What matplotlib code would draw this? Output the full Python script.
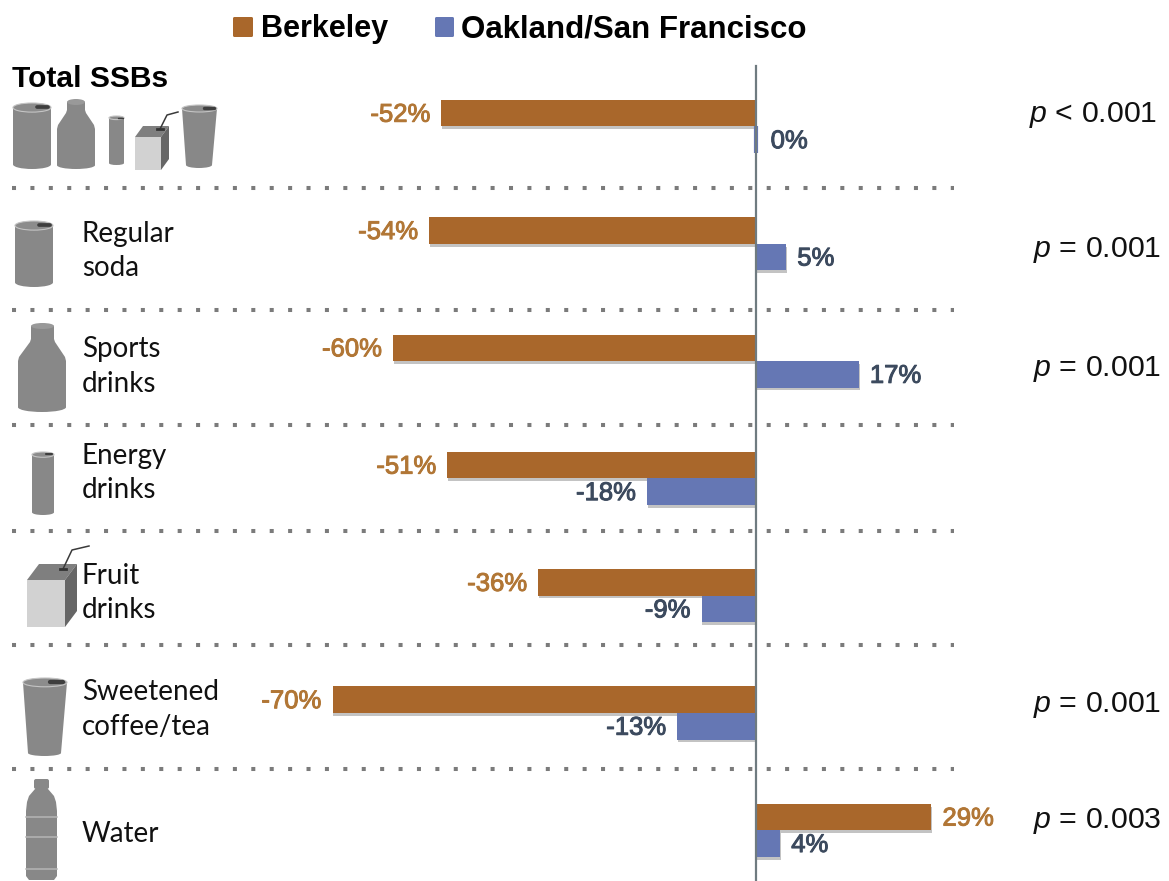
import numpy as np
import matplotlib
matplotlib.use("Agg")
import matplotlib.pyplot as plt
import matplotlib.patheffects as pe
from matplotlib.patches import Ellipse, Polygon, Rectangle, FancyBboxPatch

plt.rcParams['mathtext.fontset'] = 'custom'
plt.rcParams['mathtext.it'] = 'Liberation Sans:italic'
plt.rcParams['mathtext.rm'] = 'Liberation Sans'

# Percent change in sales by beverage group
categories = ["Total SSBs", "Regular\nsoda", "Sports\ndrinks", "Energy\ndrinks",
              "Fruit\ndrinks", "Sweetened\ncoffee/tea", "Water"]
berkeley = [-52, -54, -60, -51, -36, -70, 29]
oakland_sf = [0, 5, 17, -18, -9, -13, 4]
p_values = ["< 0.001", "= 0.001", "= 0.001", None, None, "= 0.001", "= 0.003"]
series_names = ["Berkeley", "Oakland/San Francisco"]

ORANGE = "#A9672B"
ORANGE_TEXT = "#B17635"
BLUE = "#6577B4"
BLUE_TEXT = "#3C4A5E"
GREY = "#888888"
W, H = 1169, 881

fig = plt.figure(figsize=(W / 100, H / 100), dpi=100, facecolor="white")

# data axes, scaled so one percentage point is about 6.05 px and one row 117.3 px
ax = fig.add_axes([0, 0, 1, 1])
px_per_pct = 6.05
x_zero = 756
ax.set_xlim(-x_zero / px_per_pct, (W - x_zero) / px_per_pct)
row_h = 117.3
row_0 = 126.5
ax.set_ylim((H - row_0) / row_h, -row_0 / row_h)
ax.axis("off")

# pixel overlay for the legend, separators and drink icons
ov = fig.add_axes([0, 0, 1, 1], zorder=3)
ov.set_xlim(0, W)
ov.set_ylim(H, 0)
ov.axis("off")
ov.patch.set_alpha(0)

rows = np.arange(len(categories))
bar_h = 26.5 / row_h
shadow = [pe.SimplePatchShadow(offset=(0.5, -2), shadow_rgbFace="#555555", alpha=0.35), pe.Normal()]

for vals, off, color in [(berkeley, -bar_h / 2, ORANGE), (oakland_sf, bar_h / 2, BLUE)]:
    bars = ax.barh(rows + off, vals, height=bar_h, color=color, zorder=2,
                   edgecolor=color, linewidth=[3 if v == 0 else 0 for v in vals])
    for b in bars:
        b.set_path_effects(shadow)

ax.plot([0, 0], [(66 - row_0) / row_h, (H - row_0) / row_h], color="#6F7B80", lw=1.6, zorder=3)

# value labels beside the bar ends, thickened slightly with a stroke
gap = 11 / px_per_pct
nudge = 1.5 / row_h
for vals, off, color in [(berkeley, -bar_h / 2, ORANGE_TEXT), (oakland_sf, bar_h / 2, BLUE_TEXT)]:
    for r, v in zip(rows, vals):
        t = ax.text(v + (gap if v >= 0 else -gap) + (0.6 if v == 0 else 0), r + off + nudge, f"{v}%",
                    ha="left" if v >= 0 else "right", va="center",
                    color=color, fontsize=18.5, family="Liberation Sans", zorder=4)
        t.set_path_effects([pe.withStroke(linewidth=0.7, foreground=color)])

# dotted separators
for y in [188, 310, 425, 531, 645, 769]:
    ov.plot([12, 954], [y, y], color="#7B7B7B", lw=2.9,
            linestyle=(0, (1.0, 3.57)), dash_capstyle="butt", zorder=1)

# legend
ov.add_patch(FancyBboxPatch((233, 17), 20, 20, boxstyle="round,pad=0,rounding_size=1.5",
                            fc=ORANGE, ec="none"))
ov.add_patch(FancyBboxPatch((435, 17), 19, 20, boxstyle="round,pad=0,rounding_size=1.5",
                            fc=BLUE, ec="none"))
ov.text(261, 37.5, series_names[0], ha="left", va="baseline", family="Liberation Sans",
        fontweight="bold", fontsize=22)
ov.text(461, 37.5, series_names[1], ha="left", va="baseline", family="Liberation Sans",
        fontweight="bold", fontsize=22.5)

# category names
ov.text(12, 79, categories[0], ha="left", va="center", family="Liberation Sans",
        fontweight="bold", fontsize=21.6)
label_y = [251, 366.5, 473, 593, 709.5, 834]
for name, y in zip(categories[1:], label_y):
    ov.text(82, y, name, ha="left", va="center", family="Lato", fontsize=20,
            linespacing=1.42, color="#111111")

# p values
p_y = [115, 250, 369, None, None, 705, 821]
for txt, y in zip(p_values, p_y):
    if txt is not None:
        x = 1029 if txt.startswith("<") else 1033
        ov.text(x, y, rf"$\mathit{{p}}$ {txt}", ha="left", va="center",
                family="Liberation Sans", fontsize=21.8, color="#111111")


def can(x0, x1, y0, y1, slot=True):
    ry = (x1 - x0) * 0.12
    ov.add_patch(Rectangle((x0, y0 + ry), x1 - x0, y1 - y0 - 2 * ry, fc=GREY, ec="none"))
    ov.add_patch(Ellipse(((x0 + x1) / 2, y1 - ry), x1 - x0, 2 * ry, fc=GREY, ec="none"))
    ov.add_patch(Ellipse(((x0 + x1) / 2, y0 + ry), x1 - x0, 2 * ry, fc="#8C8C8C", ec="#C4C4C4", lw=0.8))
    if slot:
        w = x1 - x0
        ov.plot([x0 + w * 0.62, x0 + w * 0.92], [y0 + ry * 0.9, y0 + ry * 0.9], color="#3E3E3E",
                lw=max(1.0, w * 0.07), solid_capstyle="round")


def jug(x0, x1, nx0, nx1, y0, neck_y, shoulder_y, y1):
    # bottle outline, neck sloping straight into the shoulders
    ry = (x1 - x0) * 0.1
    pts = [(nx0, y0 + 3), (nx1, y0 + 3), (nx1, neck_y), (nx1 + 1, neck_y + 3), (x1 - 1, shoulder_y - 1),
           (x1, shoulder_y + 3), (x1, y1 - ry), (x0, y1 - ry), (x0, shoulder_y + 3),
           (x0 + 1, shoulder_y - 1), (nx0 - 1, neck_y + 3), (nx0, neck_y)]
    ov.add_patch(Polygon(pts, fc=GREY, ec="none"))
    ov.add_patch(Ellipse(((x0 + x1) / 2, y1 - ry), x1 - x0, 2 * ry, fc=GREY, ec="none"))
    ov.add_patch(Ellipse(((nx0 + nx1) / 2, y0 + 3), nx1 - nx0, 6, fc="#999999", ec="none"))


def box(x0, x1, y0, y1, xr, yt, straw):
    ov.add_patch(Rectangle((x0, y0), x1 - x0, y1 - y0, fc="#D2D2D2", ec="none"))
    ov.add_patch(Polygon([(x0, y0), (x1, y0), (xr, yt), (x0 + (xr - x1), yt)], fc="#7F7F7F", ec="none"))
    ov.add_patch(Polygon([(x1, y0), (xr, yt), (xr, y1 - (y0 - yt)), (x1, y1)], fc="#666666", ec="none"))
    sx, sy = zip(*straw)
    ov.plot(sx, sy, color="#3A3A3A", lw=1.1)
    ov.plot([sx[0] - 3, sx[0] + 3], [sy[0], sy[0]], color="#333333", lw=2)


def cup(x0, x1, bx0, bx1, y0, y1):
    ry = (x1 - x0) * 0.1
    ov.add_patch(Polygon([(x0, y0 + ry), (x1, y0 + ry), (bx1, y1 - 3), (bx0, y1 - 3)], fc=GREY, ec="none"))
    ov.add_patch(Ellipse(((bx0 + bx1) / 2, y1 - 3), bx1 - bx0, 6, fc=GREY, ec="none"))
    ov.add_patch(Ellipse(((x0 + x1) / 2, y0 + ry), x1 - x0, 2 * ry, fc="#8C8C8C", ec="#C4C4C4", lw=0.8))
    w = x1 - x0
    ov.plot([x0 + w * 0.62, x0 + w * 0.92], [y0 + ry * 0.9, y0 + ry * 0.9], color="#3E3E3E",
            lw=max(1.0, w * 0.07), solid_capstyle="round")


def water_bottle(x0, x1, cx0, cx1, y0, y1, ridges):
    pts = [(cx0 + 1, y0 + 10), (cx1 - 1, y0 + 10), (x1 - 3, y0 + 17), (x1 - 1, y0 + 23), (x1, y0 + 32), (x1, y1 - 4),
           (x1 - 3, y1), (x0 + 3, y1), (x0, y1 - 4), (x0, y0 + 32), (x0 + 1, y0 + 23), (x0 + 3, y0 + 17)]
    ov.add_patch(Polygon(pts, fc=GREY, ec="none"))
    ov.add_patch(FancyBboxPatch((cx0, y0), cx1 - cx0, 10, boxstyle="round,pad=0,rounding_size=2",
                                fc=GREY, ec="none"))
    for r in ridges:
        ov.plot([x0, x1], [r, r], color="#B5B5B5", lw=1.1)


# small icon row under Total SSBs
can(13, 51, 103, 169)
jug(57, 95, 67, 85, 99, 110, 126, 169)
can(109, 124, 116, 165)
box(135, 161, 137, 170, 169, 126, [(160, 129), (167, 115), (178, 112)])
cup(182, 217, 186, 212, 105, 168)

# one icon per beverage row
can(15, 53, 221, 287)
jug(18, 66, 31, 54, 323, 339, 358, 412)
can(32, 54, 452, 515, slot=True)
box(27, 65, 580, 627, 77, 564, [(63, 569), (72, 550), (89, 546)])
cup(23, 67, 28, 61, 678, 756)
water_bottle(26, 57, 34, 49, 779, 880, [817, 837, 869])

fig.savefig("out.png", dpi=100, facecolor="white")
